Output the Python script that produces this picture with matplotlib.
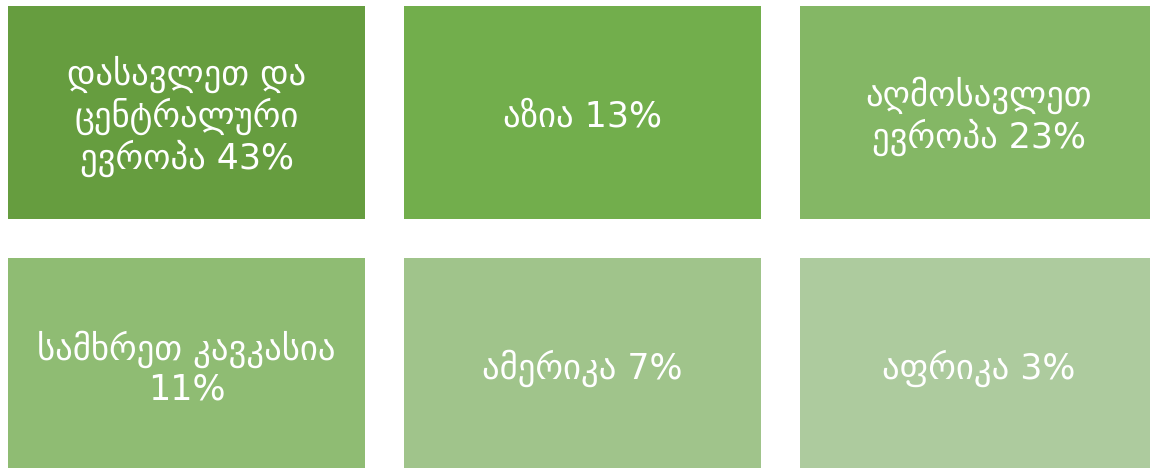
"""
Regional shares shown as a grid of coloured blocks (SmartArt style)
"""

import matplotlib.pyplot as plt
from matplotlib.patches import Rectangle

# ============================================================
# Data
# ============================================================

regions = [
    "დასავლეთ და\nცენტრალური\nევროპა",
    "აზია",
    "აღმოსავლეთ\nევროპა",
    "სამხრეთ კავკასია\n",
    "ამერიკა",
    "აფრიკა",
]
shares = [43, 13, 23, 11, 7, 3]
block_colors = ['#669d3f', '#72ae4c', '#84b765', '#8fbc73', '#a0c48b', '#adcb9e']

# ============================================================
# Layout (pixels)
# ============================================================

W, H = 1150, 468
n_cols = 3
box_w, box_h = 357, 213
x0, col_step = 8, 396
y0, row_step = 6, 252

fig = plt.figure(figsize=(W / 100, H / 100), dpi=100)
ax = fig.add_axes([0, 0, 1, 1])
ax.set_xlim(0, W)
ax.set_ylim(H, 0)
ax.axis('off')

for i, (name, pct, col) in enumerate(zip(regions, shares, block_colors)):
    r, c = divmod(i, n_cols)
    x = x0 + c * col_step
    y = y0 + r * row_step
    ax.add_patch(Rectangle((x, y), box_w, box_h, facecolor=col, edgecolor='none'))
    if name.endswith('\n'):
        label = f'{name}{pct}%'
    else:
        label = f'{name} {pct}%'
    ax.text(x + box_w / 2, y + box_h / 2 + 4, label, ha='center', va='center',
            color='white', fontsize=25, linespacing=1.15, family=['DejaVu Sans'])

fig.savefig('out.png', dpi=100)
plt.close(fig)
